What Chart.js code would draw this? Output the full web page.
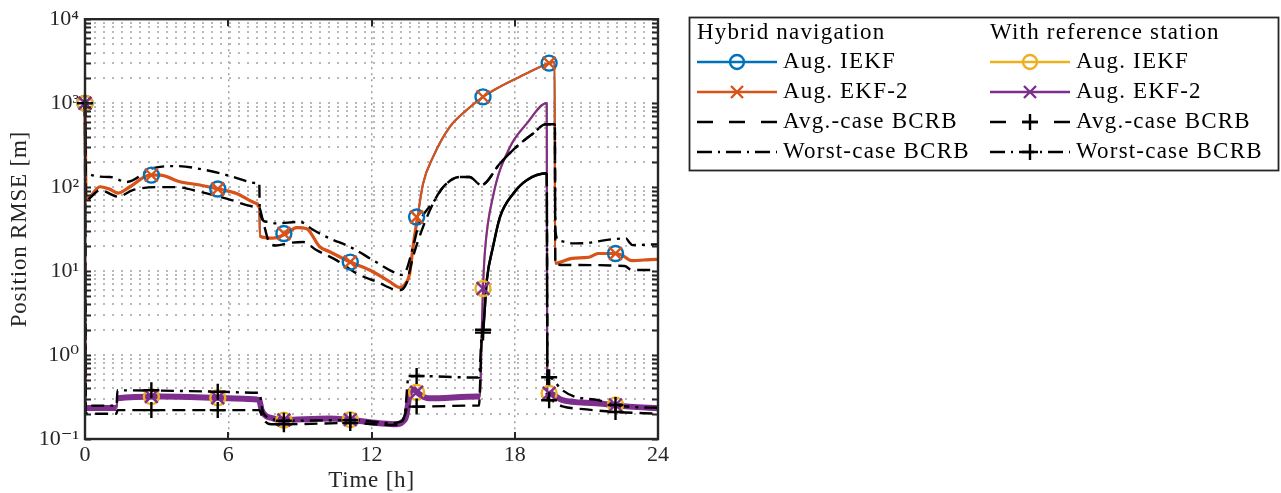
<!DOCTYPE html>
<html>
<head>
<meta charset="utf-8">
<title>Position RMSE</title>
<script src="https://cdn.jsdelivr.net/npm/chart.js@4.4.1/dist/chart.umd.min.js"></script>
<style>
  html, body { margin: 0; padding: 0; background: #ffffff; }
  canvas { display: block; }
</style>
</head>
<body>
<canvas id="rmse" width="1281" height="493"></canvas>
<script>
// ---- axis ticks ----
const timeTicks = [0, 6, 12, 18, 24];
const decadeValues = [0.1, 1, 10, 100, 1000, 10000];
const decadeLabels = ['10⁻¹', '10⁰', '10¹', '10²', '10³', '10⁴'];
const minorSteps = [2, 3, 4, 5, 6, 7, 8, 9];

// ---- marker epochs [h] (every 10 000 s) ----
const markT = [0, 2.78, 5.56, 8.33, 11.11, 13.89, 16.67, 19.44, 22.22];

// ---- hybrid navigation: Aug. IEKF and Aug. EKF-2 (coincident) ----
const hybFilterT = [0, 0.05, 0.63, 1.05, 1.39, 1.88, 2.72, 3.14, 3.97, 4.81, 5.51, 6.35, 7.18, 7.3, 7.33,
  7.87, 8.02, 8.44, 8.86, 9.28, 9.83, 10.25, 11.09, 11.92, 12.76, 13.18, 13.39, 13.6, 13.74, 13.93, 14.16,
  14.58, 15.28, 15.98, 16.67, 17.37, 18.07, 18.77, 19.44, 19.67, 19.69, 20.4, 21.1, 21.5, 22.2, 22.5, 22.9, 23.9, 24];
const hybFilterV = [1000, 71, 101, 94, 85, 101, 139, 139, 116, 106, 96, 84, 64, 56, 26,
  24.7, 25, 28, 33, 32, 19.5, 17, 12.9, 10.3, 7.5, 6.4, 6.9, 9.4, 19.5, 44, 110,
  229, 522, 826, 1188, 1563, 1969, 2472, 3000, 3100, 12.4, 14.2, 14.6, 16.2, 16.2, 15.4, 13.3, 13.8, 13.8];
const hybFilterMark = [1000, 139, 95, 28, 12.8, 44, 1188, 3000, 16.2];

// ---- hybrid navigation: BCRB ----
const hybAvgT = [0, 0.03, 0.63, 1.39, 2.0, 3.0, 3.83, 4.81, 5.93, 7.18, 7.3, 7.45, 7.74, 8.0, 8.6, 9.14,
  9.69, 10.53, 11.37, 12.2, 13.18, 13.46, 13.74, 14.16, 14.65, 15.0, 15.7, 16.1, 16.6, 17.38, 18.07, 18.77,
  19.3, 19.68, 19.7, 20.4, 22.6, 22.9, 24];
const hybAvgV = [1000, 70, 92, 77, 92, 100, 100, 88, 73, 58, 57, 40, 21.4, 20.2, 21.7, 22.2,
  17.8, 13.5, 9.4, 7.5, 5.9, 7.1, 14.8, 33.6, 70, 100, 132, 132, 106, 191, 302, 436,
  560, 560, 12, 11.8, 11.5, 10.3, 10.3];
const hybWorstT = [0, 0.03, 1.05, 1.74, 2.85, 3.83, 5.09, 6.19, 7.18, 7.3, 7.32, 7.6, 8.0, 9.0, 9.55,
  10.25, 11.09, 12.06, 12.9, 13.25, 13.46, 13.74, 14.0, 14.65, 15.0, 15.7, 16.1, 16.6, 17.38, 18.07, 18.77,
  19.3, 19.68, 19.7, 19.85, 20.4, 21.1, 21.8, 22.66, 22.8, 22.93, 23.9, 24];
const hybWorstV = [1000, 150, 132, 115, 168, 178, 159, 133, 112, 112, 51, 38.7, 37, 38.6, 31,
  24.5, 19.5, 13.5, 9.8, 9.0, 10.3, 19.5, 37, 70, 100, 132, 132, 106, 191, 302, 436,
  560, 560, 31, 23, 21.4, 21.7, 23.4, 24.5, 22, 20.4, 20.8, 20.8];

// ---- with reference station: Aug. IEKF and Aug. EKF-2 (coincident) ----
const refFilterT = [0, 0.03, 1.32, 1.36, 3.14, 5.5, 7.18, 7.3, 7.4, 7.88, 8.16, 10.25, 12.34, 13.04, 13.3,
  13.46, 13.6, 13.74, 13.9, 14.37, 16.46, 16.55, 16.6, 16.67, 16.75, 17.1, 17.8, 18.5, 19.34, 19.36, 19.44,
  20.0, 21.4, 22.8, 24];
const refFilterV = [1000, 0.234, 0.234, 0.305, 0.32, 0.31, 0.296, 0.29, 0.22, 0.176, 0.168, 0.176, 0.154, 0.15, 0.16,
  0.19, 0.35, 0.4, 0.36, 0.305, 0.32, 0.32, 1.2, 6.2, 17, 80, 300, 570, 1000, 0.36, 0.35,
  0.29, 0.266, 0.243, 0.232];
const refFilterMark = [1000, 0.32, 0.31, 0.168, 0.17, 0.36, 6.2, 0.35, 0.255];

// ---- with reference station: BCRB ----
const refAvgT = [0, 0.03, 1.32, 1.36, 7.25, 7.3, 7.45, 7.8, 8.4, 11.2, 12.8, 13.2, 13.42, 13.5, 13.9,
  16.1, 16.5, 16.62, 16.67, 16.83, 17.1, 17.38, 17.94, 18.5, 19.34, 19.37, 19.44, 20.0, 21.0, 22.2, 24];
const refAvgV = [1000, 0.2, 0.2, 0.221, 0.221, 0.221, 0.175, 0.15, 0.15, 0.155, 0.147, 0.15, 0.2, 0.243, 0.243,
  0.25, 0.25, 1.6, 1.85, 7.8, 20, 44, 84, 121, 146, 0.3, 0.29, 0.245, 0.225, 0.21, 0.2];
const refAvgMark = [1000, 0.221, 0.221, 0.15, 0.155, 0.243, 1.85, 0.29, 0.21];
const refWorstT = [0, 0.03, 1.32, 1.36, 5.6, 7.25, 7.3, 7.45, 7.7, 8.4, 11.2, 12.8, 13.2, 13.4, 13.55,
  13.9, 16.3, 16.5, 16.62, 16.67, 16.83, 17.1, 17.38, 17.94, 18.5, 19.34, 19.37, 19.44, 20.0, 20.5, 21.5,
  22.2, 23.0, 24];
const refWorstV = [1000, 0.25, 0.25, 0.38, 0.366, 0.355, 0.355, 0.21, 0.18, 0.165, 0.168, 0.155, 0.16, 0.2, 0.55,
  0.562, 0.54, 0.54, 1.8, 2.0, 7.8, 20, 44, 84, 121, 146, 0.6, 0.543, 0.38, 0.32, 0.29,
  0.254, 0.24, 0.235];
const refWorstMark = [1000, 0.38, 0.366, 0.165, 0.168, 0.562, 2.0, 0.543, 0.254];

// ---- styling ----
const FONT = "'Liberation Serif', 'DejaVu Serif', serif";
const INK = '#262626';
const C_BLUE = '#0072BD', C_ORANGE = '#D95319', C_YELLOW = '#EDB120', C_PURPLE = '#7E2F8E';
const DASH = [13, 7];
const DASHDOT = [13, 6, 3, 6];

const pts = (t, v) => t.map((x, i) => ({ x, y: v[i] }));

function lineSet(t, v, color, width, order, extra) {
  return Object.assign({
    data: pts(t, v), borderColor: color, borderWidth: width, pointRadius: 0,
    fill: false, cubicInterpolationMode: 'monotone', order, borderJoinStyle: 'round', clip: false
  }, extra || {});
}
function markSet(v, style, color, radius, order) {
  return {
    data: pts(markT, v), showLine: false, pointStyle: style, pointRadius: radius,
    pointBorderColor: color, pointBackgroundColor: 'rgba(0,0,0,0)', pointBorderWidth: 2.4,
    order, clip: false
  };
}

// noisy plateaus are drawn as thicker strokes than the smooth transients
const isJump = c => Math.abs(c.p1.parsed.x - c.p0.parsed.x) < 0.05;
const orangeWidth = c => (isJump(c) || (c.p0.parsed.x >= 13.9 && c.p1.parsed.x <= 19.7)) ? 2.2 : 3.2;
const purpleWidth = c => (!isJump(c) && c.p0.parsed.y < 1 && c.p1.parsed.y < 1) ? 6 : 2.2;
// where the two reference-station bounds coincide, their dashes merge into a solid stroke
const refRiseDash = pattern => c => (!isJump(c) && c.p0.parsed.y > 1.5 && c.p1.parsed.y > 1.5) ? [] : pattern;

const datasets = [
  markSet(refAvgMark, 'cross', '#000', 8, 1),
  markSet(refWorstMark, 'cross', '#000', 8, 1),
  markSet(refFilterMark, 'crossRot', C_PURPLE, 9, 2),
  markSet(refFilterMark, 'circle', C_YELLOW, 7.5, 3),
  markSet(hybFilterMark, 'crossRot', C_ORANGE, 9, 2),
  markSet(hybFilterMark, 'circle', C_BLUE, 7.5, 3),
  lineSet(refAvgT, refAvgV, '#000', 2.4, 10, { borderDash: DASH, segment: { borderDash: refRiseDash(DASH) } }),
  lineSet(refWorstT, refWorstV, '#000', 2.4, 10, { borderDash: DASHDOT, segment: { borderDash: refRiseDash(DASHDOT) } }),
  lineSet(hybAvgT, hybAvgV, '#000', 2.4, 11, { borderDash: DASH }),
  lineSet(hybWorstT, hybWorstV, '#000', 2.4, 11, { borderDash: DASHDOT }),
  lineSet(hybFilterT, hybFilterV, C_ORANGE, 3, 12, { segment: { borderWidth: orangeWidth } }),
  lineSet(refFilterT, refFilterV, C_PURPLE, 2, 13, { segment: { borderWidth: purpleWidth } }),
  lineSet(refFilterT, refFilterV, C_YELLOW, 2, 14),
  lineSet(hybFilterT, hybFilterV, C_BLUE, 2, 15)
];

function logTicks() {
  const out = [];
  decadeValues.forEach((d, i) => {
    out.push({ value: d, major: true });
    if (i < decadeValues.length - 1) minorSteps.forEach(s => out.push({ value: +(d * s).toPrecision(6), major: false }));
  });
  return out;
}
function decadeLabel(v) {
  const i = decadeValues.findIndex(d => Math.abs(d - v) / d < 1e-6);
  return i >= 0 ? decadeLabels[i] : '';
}

// axes box with inward ticks, as well as axis titles
const framePlugin = {
  id: 'frame',
  afterDatasetsDraw(chart) {
    const { ctx, chartArea: a, scales } = chart;
    ctx.save();
    ctx.strokeStyle = INK;
    ctx.lineWidth = 2;
    ctx.setLineDash([]);
    ctx.beginPath();
    scales.y.ticks.forEach(t => {
      const y = Math.round(scales.y.getPixelForValue(t.value)) + 0.5;
      const len = 6;
      ctx.moveTo(a.left, y); ctx.lineTo(a.left + len, y);
      ctx.moveTo(a.right, y); ctx.lineTo(a.right - len, y);
    });
    timeTicks.forEach(v => {
      const x = Math.round(scales.x.getPixelForValue(v));
      ctx.moveTo(x, a.bottom); ctx.lineTo(x, a.bottom - 7);
      ctx.moveTo(x, a.top); ctx.lineTo(x, a.top + 7);
    });
    ctx.stroke();
    ctx.lineWidth = 2.4;
    ctx.strokeRect(a.left, a.top, a.right - a.left, a.bottom - a.top);

    ctx.fillStyle = INK;
    ctx.font = '23px ' + FONT;
    ctx.letterSpacing = '0.8px';
    ctx.textAlign = 'center';
    ctx.textBaseline = 'middle';
    ctx.fillText('Time [h]', (a.left + a.right) / 2, 481);
    ctx.translate(20, (a.top + a.bottom) / 2);
    ctx.rotate(-Math.PI / 2);
    ctx.fillText('Position RMSE [m]', 0, 0);
    ctx.restore();
  }
};

// two-column legend box
const legendRows = [
  [
    { text: 'Aug. IEKF', color: C_BLUE, dash: [], mark: 'circle' },
    { text: 'Aug. EKF-2', color: C_ORANGE, dash: [], mark: 'x' },
    { text: 'Avg.-case BCRB', color: '#000', dash: [16, 16], mark: null },
    { text: 'Worst-case BCRB', color: '#000', dash: [15, 6, 2, 6], mark: null }
  ],
  [
    { text: 'Aug. IEKF', color: C_YELLOW, dash: [], mark: 'circle' },
    { text: 'Aug. EKF-2', color: C_PURPLE, dash: [], mark: 'x' },
    { text: 'Avg.-case BCRB', color: '#000', dash: [16, 16], mark: 'plus' },
    { text: 'Worst-case BCRB', color: '#000', dash: [15, 6, 2, 6], mark: 'plus' }
  ]
];
const legendHeads = ['Hybrid navigation', 'With reference station'];

function drawMark(ctx, kind, x, y, color) {
  ctx.save();
  ctx.setLineDash([]);
  ctx.strokeStyle = color;
  ctx.lineWidth = 2.4;
  ctx.beginPath();
  if (kind === 'circle') {
    ctx.arc(x, y, 7, 0, Math.PI * 2);
  } else if (kind === 'x') {
    const d = 6;
    ctx.moveTo(x - d, y - d); ctx.lineTo(x + d, y + d);
    ctx.moveTo(x - d, y + d); ctx.lineTo(x + d, y - d);
  } else if (kind === 'plus') {
    const d = 8;
    ctx.moveTo(x - d, y); ctx.lineTo(x + d, y);
    ctx.moveTo(x, y - d); ctx.lineTo(x, y + d);
  }
  ctx.stroke();
  ctx.restore();
}

const legendPlugin = {
  id: 'boxLegend',
  afterDraw(chart) {
    const ctx = chart.ctx;
    const box = { x: 689, y: 17, w: 590, h: 154 };
    const colX = [697, 990];
    const headY = 33;
    const rowY = [62, 92, 122, 152];
    ctx.save();
    ctx.fillStyle = '#fff';
    ctx.fillRect(box.x, box.y, box.w, box.h);
    ctx.strokeStyle = INK;
    ctx.lineWidth = 1.8;
    ctx.strokeRect(box.x + 0.5, box.y + 0.5, box.w - 1, box.h - 1);
    ctx.font = '23px ' + FONT;
    ctx.letterSpacing = '1.2px';
    ctx.fillStyle = '#000';
    ctx.textAlign = 'left';
    ctx.textBaseline = 'middle';
    legendHeads.forEach((h, c) => ctx.fillText(h, colX[c], headY));
    legendRows.forEach((col, c) => {
      col.forEach((e, r) => {
        const x0 = colX[c], y = rowY[r];
        ctx.save();
        ctx.strokeStyle = e.color;
        ctx.lineWidth = 2.4;
        ctx.setLineDash(e.dash);
        ctx.beginPath();
        ctx.moveTo(x0, y); ctx.lineTo(x0 + 80, y);
        ctx.stroke();
        ctx.restore();
        if (e.mark) drawMark(ctx, e.mark, x0 + 40, y, e.color);
        ctx.fillStyle = '#000';
        ctx.fillText(e.text, x0 + 86, y);
      });
    });
    ctx.restore();
  }
};

Chart.defaults.font.family = FONT;

new Chart(document.getElementById('rmse'), {
  type: 'line',
  data: { datasets },
  options: {
    responsive: false,
    animation: false,
    events: [],
    layout: { padding: { top: 19, right: 623, left: 0, bottom: 0 } },
    plugins: { legend: { display: false }, tooltip: { enabled: false } },
    scales: {
      x: {
        type: 'linear', min: 0, max: 24,
        afterBuildTicks: s => { s.ticks = timeTicks.map(v => ({ value: v })); },
        afterFit: s => { s.height = 54; },
        border: { display: false, dash: [2, 4] },
        grid: {
          drawTicks: false, lineWidth: 1.5,
          color: c => (c.tick && (c.tick.value === 0 || c.tick.value === 24)) ? 'rgba(0,0,0,0)' : '#a0a0a0'
        },
        ticks: { color: INK, font: { size: 22, family: FONT }, padding: 3, maxRotation: 0, autoSkip: false }
      },
      y: {
        type: 'logarithmic', min: 0.1, max: 10000,
        afterBuildTicks: s => { s.ticks = logTicks(); },
        afterFit: s => { s.width = 85; },
        border: { display: false, dash: [2, 7] },
        grid: { drawTicks: false, lineWidth: 2, color: '#b8b8b8' },
        ticks: {
          color: INK, font: { size: 22, family: FONT }, padding: 6, autoSkip: false,
          callback: v => decadeLabel(v)
        }
      }
    }
  },
  plugins: [framePlugin, legendPlugin]
});
</script>
</body>
</html>
